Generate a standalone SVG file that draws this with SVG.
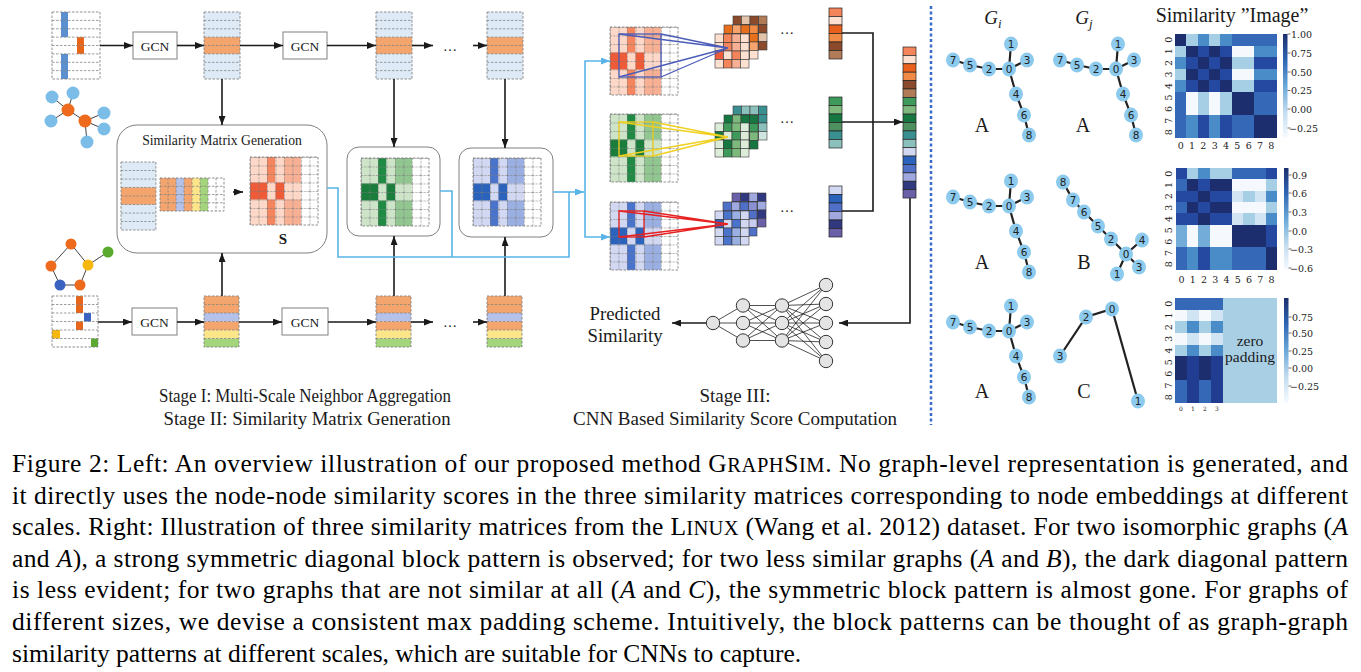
<svg xmlns="http://www.w3.org/2000/svg" width="1361" height="672" viewBox="0 0 1361 672">
<style>
.ln{stroke:#1a1a1a;stroke-width:1.6;fill:none}
.bl{stroke:#58b4e8;stroke-width:1.6;fill:none}
.box{fill:#fff;stroke:#808080;stroke-width:1}
.t{font-family:"Liberation Serif","Times New Roman",serif;fill:#1a1a1a}
.brd{fill:none;stroke:#858585;stroke-width:0.9;stroke-dasharray:2.5,1.5}
.dsh{fill:none;stroke:#858585;stroke-width:0.8;stroke-dasharray:2.5,1.5}
.o .L{fill:#fdd8c8}.o .M{fill:#f8b094}.o .D{fill:#f4855e}.o .X{fill:#ee5b38}
.g .L{fill:#cde4c8}.g .M{fill:#92c690}.g .D{fill:#208a44}.g .X{fill:#1b7d3b}
.b .L{fill:#d2d8f2}.b .M{fill:#9bb0e2}.b .D{fill:#4a74cc}.b .X{fill:#2a62bc}
.W{fill:#fff}
.fm rect{width:8.5px;height:8.5px;stroke:#3a3a3a;stroke-width:0.6}
.vc rect{width:13px;height:8.5px;stroke:#222;stroke-width:0.7}
.cc rect{width:13px;height:8.39px;stroke:#222;stroke-width:0.7}
.nn circle{fill:#e4e4e4;stroke:#333;stroke-width:1}
.nn path{stroke:#222;stroke-width:0.8;fill:none}
.ge{stroke:#222;stroke-width:2.2;fill:none}
.gn{fill:#8ccaee}
.gl{font-family:"DejaVu Sans",sans-serif;font-size:10.5px;fill:#222;text-anchor:middle}
.tk{font-family:"DejaVu Serif",serif;font-size:9.5px;fill:#222}
.cap{font-family:"Liberation Serif","Times New Roman",serif;font-size:25.5px;fill:#000}
.cN{fill:#1c2e6d}.c1{fill:#2549a0}.c2{fill:#3569b8}.c3{fill:#4a8cc8}.c4{fill:#74acd9}.c5{fill:#a6cfe6}.c6{fill:#d0e4f3}.c7{fill:#f5f9fe}.cx{fill:#213d92}.pad{fill:#a9cfe5}
</style>
<defs>
<marker id="ah" markerWidth="9" markerHeight="7" refX="9" refY="3.5" orient="auto" markerUnits="userSpaceOnUse"><path d="M0,0L9,3.5L0,7z" fill="#1a1a1a"/></marker>
<marker id="ahb" markerWidth="9" markerHeight="7" refX="9" refY="3.5" orient="auto" markerUnits="userSpaceOnUse"><path d="M0,0L9,3.5L0,7z" fill="#58b4e8"/></marker>
<pattern id="g85" width="8.5" height="8.5" patternUnits="userSpaceOnUse"><path d="M0,0.3H8.5M0.3,0V8.5" stroke="#7a7a7a" stroke-width="0.7" stroke-dasharray="2,1.2" fill="none"/></pattern>
<linearGradient id="cb" x1="0" y1="0" x2="0" y2="1"><stop offset="0" stop-color="#1c2e6d"/><stop offset="0.25" stop-color="#2f66b4"/><stop offset="0.5" stop-color="#6aa8d8"/><stop offset="0.75" stop-color="#c2dcef"/><stop offset="1" stop-color="#f7fbff"/></linearGradient>
<g id="embT"><rect width="36" height="67" fill="#deebf7"/><rect y="25.1" width="36" height="16.8" fill="#f4a56e"/><path class="dsh" d="M0,8.4H36M0,16.8H36M0,25.1H36M0,33.5H36M0,41.9H36M0,50.3H36M0,58.6H36"/><rect class="brd" width="36" height="67"/></g>
<g id="embB"><rect width="35" height="17" fill="#f4a56e"/><rect y="17" width="35" height="8.5" fill="#b4c2ea"/><rect y="25.5" width="35" height="8.5" fill="#f4a56e"/><rect y="34" width="35" height="8.5" fill="#fde68a"/><rect y="42.5" width="35" height="8.5" fill="#a4d47c"/><path class="dsh" d="M0,8.5H35M0,17H35M0,25.5H35M0,34H35M0,42.5H35"/><rect class="brd" width="35" height="51"/></g>
<g id="gA"><path class="ge" d="M953,60L970,65L989,69L1009,69L1011,44M1009,69L1027,60M1009,69L1016,94L1024,115L1029,135"/>
<ellipse class="gn" cx="953" cy="60" rx="7" ry="7.5"/><ellipse class="gn" cx="970" cy="65" rx="7" ry="7.5"/><ellipse class="gn" cx="989" cy="69" rx="7" ry="7.5"/><ellipse class="gn" cx="1009" cy="69" rx="7" ry="7.5"/><ellipse class="gn" cx="1011" cy="44" rx="7" ry="7.5"/><ellipse class="gn" cx="1027" cy="60" rx="7" ry="7.5"/><ellipse class="gn" cx="1016" cy="94" rx="7" ry="7.5"/><ellipse class="gn" cx="1024" cy="115" rx="7" ry="7.5"/><ellipse class="gn" cx="1029" cy="135" rx="7" ry="7.5"/>
<text class="gl" x="953" y="64">7</text><text class="gl" x="970" y="69">5</text><text class="gl" x="989" y="73">2</text><text class="gl" x="1009" y="73">0</text><text class="gl" x="1011" y="48">1</text><text class="gl" x="1027" y="64">3</text><text class="gl" x="1016" y="98">4</text><text class="gl" x="1024" y="119">6</text><text class="gl" x="1029" y="139">8</text></g>
</defs>
<rect width="1361" height="672" fill="#fff"/>

<!-- Stage I top row -->
<g id="input-top" transform="translate(52,12)"><rect width="48" height="67" fill="#fff"/><rect x="9" width="7" height="25.1" fill="#5b8fd0"/><rect x="9" y="41.9" width="7" height="25.1" fill="#5b8fd0"/><rect x="25" y="25.1" width="7" height="16.8" fill="#e8661c"/><path class="dsh" d="M0,8.4H48M0,16.8H48M0,25.1H48M0,33.5H48M0,41.9H48M0,50.3H48M0,58.6H48"/><rect class="brd" width="48" height="67"/></g>
<g id="graph-top"><path d="M68,110L52,97M68,110L73,93M68,110L51,121M68,110L85,121L104,113M85,121L104,129M85,121L87,142" stroke="#444" stroke-width="1" fill="none"/><circle cx="52" cy="97" r="6.5" fill="#7cbde8"/><circle cx="73" cy="93" r="6.5" fill="#7cbde8"/><circle cx="51" cy="121" r="6.5" fill="#7cbde8"/><circle cx="104" cy="113" r="6.5" fill="#7cbde8"/><circle cx="104" cy="129" r="6.5" fill="#7cbde8"/><circle cx="87" cy="142" r="6.5" fill="#7cbde8"/><circle cx="68" cy="110" r="6.5" fill="#ee6a1c"/><circle cx="85" cy="121" r="6.5" fill="#ee6a1c"/></g>
<g id="gcn-t1"><rect class="box" x="133" y="32" width="44" height="27"/><text class="t" x="155" y="50.5" font-size="13.5" text-anchor="middle">GCN</text></g>
<g id="gcn-t2"><rect class="box" x="283" y="32" width="44" height="27"/><text class="t" x="305" y="50.5" font-size="13.5" text-anchor="middle">GCN</text></g>
<g id="emb-t1"><use href="#embT" x="204" y="12"/></g>
<g id="emb-t2"><use href="#embT" x="376" y="12"/></g>
<g id="emb-t3"><use href="#embT" x="487" y="12"/></g>
<text class="t" x="450" y="51" font-size="14" text-anchor="middle">…</text>

<!-- Stage I bottom row -->
<g id="input-bot" transform="translate(52,296)"><rect width="46" height="51" fill="#fff"/><rect x="24" width="7" height="17" fill="#e8661c"/><rect x="32" y="17" width="7" height="8.5" fill="#3a62c0"/><rect x="24" y="25.5" width="7" height="8.5" fill="#e8661c"/><rect y="34" width="8" height="8.5" fill="#f6b80e"/><rect x="39" y="42.5" width="7" height="8.5" fill="#5aaa30"/><path class="dsh" d="M0,8.5H46M0,17H46M0,25.5H46M0,34H46M0,42.5H46"/><rect class="brd" width="46" height="51"/></g>
<g id="graph-bot"><path d="M71,244L51,266L60,285L80,285L88,265L71,244M88,265L108,252" stroke="#444" stroke-width="1" fill="none"/><circle cx="71" cy="244" r="5.5" fill="#ee6a1c"/><circle cx="51" cy="266" r="5.5" fill="#ee6a1c"/><circle cx="88" cy="265" r="5.5" fill="#f6b80e"/><circle cx="108" cy="252" r="5.5" fill="#5aaa30"/><circle cx="60" cy="285" r="5.5" fill="#3a62c0"/><circle cx="80" cy="285" r="5.5" fill="#ee6a1c"/></g>
<g id="gcn-b1"><rect class="box" x="132" y="308" width="45" height="27"/><text class="t" x="154.5" y="326.5" font-size="13.5" text-anchor="middle">GCN</text></g>
<g id="gcn-b2"><rect class="box" x="282" y="308" width="46" height="27"/><text class="t" x="305" y="326.5" font-size="13.5" text-anchor="middle">GCN</text></g>
<g id="emb-b1"><use href="#embB" x="204" y="296"/></g>
<g id="emb-b2"><use href="#embB" x="376" y="296"/></g>
<g id="emb-b3"><use href="#embB" x="487" y="296"/></g>
<text class="t" x="450" y="327" font-size="14" text-anchor="middle">…</text>

<!-- Stage II -->
<g id="simgen">
<rect class="box" x="117" y="125" width="210" height="128" rx="20"/>
<text class="t" x="222" y="145" font-size="13.7" text-anchor="middle">Similarity Matrix Generation</text>
<use href="#embT" transform="translate(121,162) scale(0.97,1.015)"/>
<g transform="translate(160,178)"><rect width="16" height="33" fill="#f4a56e"/><rect x="16" width="8" height="33" fill="#b4c2ea"/><rect x="24" width="8" height="33" fill="#f4a56e"/><rect x="32" width="8" height="33" fill="#fde68a"/><rect x="40" width="8" height="33" fill="#a4d47c"/><rect x="48" width="16" height="33" fill="#fff"/><path class="dsh" d="M0,8.25H64M0,16.5H64M0,24.75H64M8,0V33M16,0V33M24,0V33M32,0V33M40,0V33M48,0V33M56,0V33"/><rect class="brd" width="64" height="33"/></g>
<path class="ln" d="M233,192H243" marker-end="url(#ah)"/>
<g class="o" transform="translate(250,157)"><rect class="L" width="17" height="68"/><rect class="D" x="17" width="8.5" height="68"/><rect class="L" x="25.5" width="8.5" height="68"/><rect class="M" x="34" width="17" height="68"/><rect class="W" x="51" width="17" height="68"/><rect class="X" y="25.5" width="17" height="17"/><rect class="L" x="17" y="25.5" width="8.5" height="17"/><rect class="X" x="25.5" y="25.5" width="8.5" height="17"/><rect class="L" x="34" y="25.5" width="17" height="17"/><rect fill="url(#g85)" width="68" height="68"/><rect class="brd" width="68" height="68"/></g>
<text class="t" x="283" y="244" font-size="15" font-weight="bold" text-anchor="middle">S</text>
</g>
<g id="simG"><rect class="box" x="347" y="147" width="93" height="89" rx="12"/>
<g class="g" transform="translate(361,158)"><rect class="L" width="17" height="68"/><rect class="D" x="17" width="8.5" height="68"/><rect class="L" x="25.5" width="8.5" height="68"/><rect class="M" x="34" width="17" height="68"/><rect class="W" x="51" width="17" height="68"/><rect class="X" y="25.5" width="17" height="17"/><rect class="L" x="17" y="25.5" width="8.5" height="17"/><rect class="X" x="25.5" y="25.5" width="8.5" height="17"/><rect class="L" x="34" y="25.5" width="17" height="17"/><rect fill="url(#g85)" width="68" height="68"/><rect class="brd" width="68" height="68"/></g></g>
<g id="simB"><rect class="box" x="459" y="148" width="94" height="89" rx="12"/>
<g class="b" transform="translate(473,158)"><rect class="L" width="17" height="68"/><rect class="D" x="17" width="8.5" height="68"/><rect class="L" x="25.5" width="8.5" height="68"/><rect class="M" x="34" width="17" height="68"/><rect class="W" x="51" width="17" height="68"/><rect class="X" y="25.5" width="17" height="17"/><rect class="L" x="17" y="25.5" width="8.5" height="17"/><rect class="X" x="25.5" y="25.5" width="8.5" height="17"/><rect class="L" x="34" y="25.5" width="17" height="17"/><rect fill="url(#g85)" width="68" height="68"/><rect class="brd" width="68" height="68"/></g></g>

<!-- Stage III -->
<g id="cnn-in">
<g class="o" transform="translate(610,27)"><rect class="L" width="17" height="68"/><rect class="D" x="17" width="8.5" height="68"/><rect class="L" x="25.5" width="8.5" height="68"/><rect class="M" x="34" width="17" height="68"/><rect class="W" x="51" width="17" height="68"/><rect class="X" y="25.5" width="17" height="17"/><rect class="L" x="17" y="25.5" width="8.5" height="17"/><rect class="X" x="25.5" y="25.5" width="8.5" height="17"/><rect class="L" x="34" y="25.5" width="17" height="17"/><rect fill="url(#g85)" width="68" height="68"/><rect class="brd" width="68" height="68"/></g>
<g class="g" transform="translate(610,114)"><rect class="L" width="17" height="68"/><rect class="D" x="17" width="8.5" height="68"/><rect class="L" x="25.5" width="8.5" height="68"/><rect class="M" x="34" width="17" height="68"/><rect class="W" x="51" width="17" height="68"/><rect class="X" y="25.5" width="17" height="17"/><rect class="L" x="17" y="25.5" width="8.5" height="17"/><rect class="X" x="25.5" y="25.5" width="8.5" height="17"/><rect class="L" x="34" y="25.5" width="17" height="17"/><rect fill="url(#g85)" width="68" height="68"/><rect class="brd" width="68" height="68"/></g>
<g class="b" transform="translate(610,202)"><rect class="L" width="17" height="68"/><rect class="D" x="17" width="8.5" height="68"/><rect class="L" x="25.5" width="8.5" height="68"/><rect class="M" x="34" width="17" height="68"/><rect class="W" x="51" width="17" height="68"/><rect class="X" y="25.5" width="17" height="17"/><rect class="L" x="17" y="25.5" width="8.5" height="17"/><rect class="X" x="25.5" y="25.5" width="8.5" height="17"/><rect class="L" x="34" y="25.5" width="17" height="17"/><rect fill="url(#g85)" width="68" height="68"/><rect class="brd" width="68" height="68"/></g>
</g>
<g id="fmO" class="fm">
<g transform="translate(733,16)"><rect x="0" y="0" fill="#8b4a2b"/><rect x="8.5" y="0" fill="#e3c3aa"/><rect x="17" y="0" fill="#8b4a2b"/><rect x="25.5" y="0" fill="#b27b57"/><rect x="0" y="8.5" fill="#b27b57"/><rect x="8.5" y="8.5" fill="#8b4a2b"/><rect x="17" y="8.5" fill="#e3c3aa"/><rect x="25.5" y="8.5" fill="#8b4a2b"/><rect x="0" y="17" fill="#8b4a2b"/><rect x="8.5" y="17" fill="#b27b57"/><rect x="17" y="17" fill="#8b4a2b"/><rect x="25.5" y="17" fill="#e3c3aa"/><rect x="0" y="25.5" fill="#e3c3aa"/><rect x="8.5" y="25.5" fill="#8b4a2b"/><rect x="17" y="25.5" fill="#b27b57"/><rect x="25.5" y="25.5" fill="#8b4a2b"/></g>
<g transform="translate(724,25)"><rect x="0" y="0" fill="#e8701c"/><rect x="8.5" y="0" fill="#f5a46e"/><rect x="17" y="0" fill="#e8701c"/><rect x="25.5" y="0" fill="#f08a45"/><rect x="0" y="8.5" fill="#f08a45"/><rect x="8.5" y="8.5" fill="#e8701c"/><rect x="17" y="8.5" fill="#f5a46e"/><rect x="25.5" y="8.5" fill="#e8701c"/><rect x="0" y="17" fill="#f5a46e"/><rect x="8.5" y="17" fill="#f08a45"/><rect x="17" y="17" fill="#e8701c"/><rect x="25.5" y="17" fill="#f5a46e"/><rect x="0" y="25.5" fill="#e8701c"/><rect x="8.5" y="25.5" fill="#f5a46e"/><rect x="17" y="25.5" fill="#f08a45"/><rect x="25.5" y="25.5" fill="#fde0d0"/></g>
<g transform="translate(715,34)"><rect x="0" y="0" fill="#fde0d0"/><rect x="8.5" y="0" fill="#f4845a"/><rect x="17" y="0" fill="#f8b094"/><rect x="25.5" y="0" fill="#fde0d0"/><rect x="0" y="8.5" fill="#fde0d0"/><rect x="8.5" y="8.5" fill="#f4845a"/><rect x="17" y="8.5" fill="#f8b094"/><rect x="25.5" y="8.5" fill="#fde0d0"/><rect x="0" y="17" fill="#ee5b38"/><rect x="8.5" y="17" fill="#fde0d0"/><rect x="17" y="17" fill="#f4845a"/><rect x="25.5" y="17" fill="#fde0d0"/><rect x="0" y="25.5" fill="#fde0d0"/><rect x="8.5" y="25.5" fill="#f4845a"/><rect x="17" y="25.5" fill="#f8b094"/><rect x="25.5" y="25.5" fill="#fde0d0"/></g>
</g>
<g id="fmG" class="fm">
<g transform="translate(733,106)"><rect x="0" y="0" fill="#3a9090"/><rect x="8.5" y="0" fill="#8cc0bc"/><rect x="17" y="0" fill="#8cc0bc"/><rect x="25.5" y="0" fill="#3a9090"/><rect x="0" y="8.5" fill="#8cc0bc"/><rect x="8.5" y="8.5" fill="#3a9090"/><rect x="17" y="8.5" fill="#d0e4e0"/><rect x="25.5" y="8.5" fill="#3a9090"/><rect x="0" y="17" fill="#3a9090"/><rect x="8.5" y="17" fill="#8cc0bc"/><rect x="17" y="17" fill="#3a9090"/><rect x="25.5" y="17" fill="#8cc0bc"/><rect x="0" y="25.5" fill="#8cc0bc"/><rect x="8.5" y="25.5" fill="#3a9090"/><rect x="17" y="25.5" fill="#8cc0bc"/><rect x="25.5" y="25.5" fill="#d0e4e0"/></g>
<g transform="translate(724,115)"><rect x="0" y="0" fill="#167840"/><rect x="8.5" y="0" fill="#7db87c"/><rect x="17" y="0" fill="#167840"/><rect x="25.5" y="0" fill="#167840"/><rect x="0" y="8.5" fill="#3d9a5a"/><rect x="8.5" y="8.5" fill="#167840"/><rect x="17" y="8.5" fill="#7db87c"/><rect x="25.5" y="8.5" fill="#3d9a5a"/><rect x="0" y="17" fill="#7db87c"/><rect x="8.5" y="17" fill="#3d9a5a"/><rect x="17" y="17" fill="#167840"/><rect x="25.5" y="17" fill="#7db87c"/><rect x="0" y="25.5" fill="#167840"/><rect x="8.5" y="25.5" fill="#7db87c"/><rect x="17" y="25.5" fill="#3d9a5a"/><rect x="25.5" y="25.5" fill="#167840"/></g>
<g transform="translate(715,123)"><rect x="0" y="0" fill="#dcecd8"/><rect x="8.5" y="0" fill="#3d9a5a"/><rect x="17" y="0" fill="#7db87c"/><rect x="25.5" y="0" fill="#dcecd8"/><rect x="0" y="8.5" fill="#167840"/><rect x="8.5" y="8.5" fill="#dcecd8"/><rect x="17" y="8.5" fill="#3d9a5a"/><rect x="25.5" y="8.5" fill="#dcecd8"/><rect x="0" y="17" fill="#dcecd8"/><rect x="8.5" y="17" fill="#167840"/><rect x="17" y="17" fill="#7db87c"/><rect x="25.5" y="17" fill="#dcecd8"/><rect x="0" y="25.5" fill="#dcecd8"/><rect x="8.5" y="25.5" fill="#3d9a5a"/><rect x="17" y="25.5" fill="#7db87c"/><rect x="25.5" y="25.5" fill="#dcecd8"/></g>
</g>
<g id="fmB" class="fm">
<g transform="translate(732,193)"><rect x="0" y="0" fill="#6a60a8"/><rect x="8.5" y="0" fill="#303880"/><rect x="17" y="0" fill="#a0a8e0"/><rect x="25.5" y="0" fill="#303880"/><rect x="0" y="8.5" fill="#303880"/><rect x="8.5" y="8.5" fill="#6a60a8"/><rect x="17" y="8.5" fill="#303880"/><rect x="25.5" y="8.5" fill="#a0a8e0"/><rect x="0" y="17" fill="#a0a8e0"/><rect x="8.5" y="17" fill="#303880"/><rect x="17" y="17" fill="#6a60a8"/><rect x="25.5" y="17" fill="#303880"/><rect x="0" y="25.5" fill="#303880"/><rect x="8.5" y="25.5" fill="#a0a8e0"/><rect x="17" y="25.5" fill="#303880"/><rect x="25.5" y="25.5" fill="#6a60a8"/></g>
<g transform="translate(723,202)"><rect x="0" y="0" fill="#5070c8"/><rect x="8.5" y="0" fill="#a0a8e0"/><rect x="17" y="0" fill="#5070c8"/><rect x="25.5" y="0" fill="#8a90d0"/><rect x="0" y="8.5" fill="#8a90d0"/><rect x="8.5" y="8.5" fill="#5070c8"/><rect x="17" y="8.5" fill="#a0a8e0"/><rect x="25.5" y="8.5" fill="#5070c8"/><rect x="0" y="17" fill="#5070c8"/><rect x="8.5" y="17" fill="#8a90d0"/><rect x="17" y="17" fill="#5070c8"/><rect x="25.5" y="17" fill="#c8ccee"/><rect x="0" y="25.5" fill="#a0a8e0"/><rect x="8.5" y="25.5" fill="#5070c8"/><rect x="17" y="25.5" fill="#8a90d0"/><rect x="25.5" y="25.5" fill="#5070c8"/></g>
<g transform="translate(715,211)"><rect x="0" y="0" fill="#d2d8f2"/><rect x="8.5" y="0" fill="#4a74cc"/><rect x="17" y="0" fill="#9bb0e2"/><rect x="25.5" y="0" fill="#d2d8f2"/><rect x="0" y="8.5" fill="#2a62bc"/><rect x="8.5" y="8.5" fill="#d2d8f2"/><rect x="17" y="8.5" fill="#4a74cc"/><rect x="25.5" y="8.5" fill="#d2d8f2"/><rect x="0" y="17" fill="#d2d8f2"/><rect x="8.5" y="17" fill="#4a74cc"/><rect x="17" y="17" fill="#9bb0e2"/><rect x="25.5" y="17" fill="#d2d8f2"/><rect x="0" y="25.5" fill="#d2d8f2"/><rect x="8.5" y="25.5" fill="#4a74cc"/><rect x="17" y="25.5" fill="#9bb0e2"/><rect x="25.5" y="25.5" fill="#d2d8f2"/></g>
</g>
<g id="filters" fill="none" stroke-width="1.3">
<rect x="619" y="34" width="42" height="43" stroke="#4a5cb8"/><path d="M619,34L728,48M661,34L728,48M619,77L728,48M661,77L728,48" stroke="#4a5cb8"/>
<rect x="619" y="122" width="34" height="34" stroke="#f0d020"/><path d="M619,122L728,137M653,122L728,137M619,156L728,137M653,156L728,137" stroke="#f0d020"/>
<rect x="619" y="211" width="25" height="26" stroke="#e82020"/><path d="M619,211L728,224M644,211L728,224M619,237L728,224M644,237L728,224" stroke="#e82020"/>
</g>
<text class="t" x="787" y="34" font-size="14" text-anchor="middle">…</text>
<text class="t" x="787" y="123" font-size="14" text-anchor="middle">…</text>
<text class="t" x="787" y="212" font-size="14" text-anchor="middle">…</text>
<g id="vecO" class="vc" transform="translate(829,8)"><rect y="0" fill="#f4845a"/><rect y="8.5" fill="#fde0d0"/><rect y="17" fill="#e8601c"/><rect y="25.5" fill="#f08a45"/><rect y="34" fill="#8b4a2b"/><rect y="42.5" fill="#b27b57"/></g>
<g id="vecG" class="vc" transform="translate(829,97)"><rect y="0" fill="#3d9a5a"/><rect y="8.5" fill="#7db87c"/><rect y="17" fill="#167840"/><rect y="25.5" fill="#4e9060"/><rect y="34" fill="#3a9090"/><rect y="42.5" fill="#8cc0bc"/></g>
<g id="vecB" class="vc" transform="translate(829,186)"><rect y="0" fill="#d2d8f2"/><rect y="8.5" fill="#2a62bc"/><rect y="17" fill="#5070c8"/><rect y="25.5" fill="#a0a8e0"/><rect y="34" fill="#303880"/><rect y="42.5" fill="#6a60a8"/></g>
<g id="concat" class="cc" transform="translate(903,47)"><rect y="0" fill="#f4845a"/><rect y="8.39" fill="#fde0d0"/><rect y="16.78" fill="#e8601c"/><rect y="25.17" fill="#f08a45"/><rect y="33.56" fill="#8b4a2b"/><rect y="41.95" fill="#b27b57"/><rect y="50.34" fill="#3d9a5a"/><rect y="58.73" fill="#7db87c"/><rect y="67.12" fill="#167840"/><rect y="75.51" fill="#4e9060"/><rect y="83.9" fill="#3a9090"/><rect y="92.29" fill="#8cc0bc"/><rect y="100.68" fill="#d2d8f2"/><rect y="109.07" fill="#2a62bc"/><rect y="117.46" fill="#5070c8"/><rect y="125.85" fill="#a0a8e0"/><rect y="134.24" fill="#303880"/><rect y="142.63" fill="#6a60a8"/></g>
<g id="nn" class="nn">
<path d="M713,323L743,305.5M713,323L743,323M713,323L743,340.5M743,305.5L782,305.5M743,305.5L782,323M743,305.5L782,340.5M743,323L782,305.5M743,323L782,323M743,323L782,340.5M743,340.5L782,305.5M743,340.5L782,323M743,340.5L782,340.5M782,305.5L826,285M782,305.5L826,304M782,305.5L826,323M782,305.5L826,342M782,305.5L826,361M782,323L826,285M782,323L826,304M782,323L826,323M782,323L826,342M782,323L826,361M782,340.5L826,285M782,340.5L826,304M782,340.5L826,323M782,340.5L826,342M782,340.5L826,361"/>
<circle cx="713" cy="323" r="6.7"/><circle cx="743" cy="305.5" r="6.7"/><circle cx="743" cy="323" r="6.7"/><circle cx="743" cy="340.5" r="6.7"/><circle cx="782" cy="305.5" r="6.7"/><circle cx="782" cy="323" r="6.7"/><circle cx="782" cy="340.5" r="6.7"/><circle cx="826" cy="285" r="6.7"/><circle cx="826" cy="304" r="6.7"/><circle cx="826" cy="323" r="6.7"/><circle cx="826" cy="342" r="6.7"/><circle cx="826" cy="361" r="6.7"/>
</g>
<text class="t" x="625" y="320" font-size="18.8" text-anchor="middle">Predicted</text>
<text class="t" x="625" y="342" font-size="18.8" text-anchor="middle">Similarity</text>

<!-- connectors -->
<g id="connectors">
<path class="ln" d="M100,45.5H133" marker-end="url(#ah)"/>
<path class="ln" d="M177,45.5H204" marker-end="url(#ah)"/>
<path class="ln" d="M240,45.5H283" marker-end="url(#ah)"/>
<path class="ln" d="M327,45.5H376" marker-end="url(#ah)"/>
<path class="ln" d="M412,45.5H433" marker-end="url(#ah)"/>
<path class="ln" d="M473,45.5H487" marker-end="url(#ah)"/>
<path class="ln" d="M98,322H132" marker-end="url(#ah)"/>
<path class="ln" d="M177,322H204" marker-end="url(#ah)"/>
<path class="ln" d="M239,322H282" marker-end="url(#ah)"/>
<path class="ln" d="M328,322H376" marker-end="url(#ah)"/>
<path class="ln" d="M411,322H433" marker-end="url(#ah)"/>
<path class="ln" d="M473,322H487" marker-end="url(#ah)"/>
<path class="ln" d="M222,79V125" marker-end="url(#ah)"/>
<path class="ln" d="M394,79V147" marker-end="url(#ah)"/>
<path class="ln" d="M505,79V148" marker-end="url(#ah)"/>
<path class="ln" d="M222,296V253" marker-end="url(#ah)"/>
<path class="ln" d="M394,296V236" marker-end="url(#ah)"/>
<path class="ln" d="M505,296V237" marker-end="url(#ah)"/>
<path class="bl" d="M327,188H338V257H569V192"/>
<path class="bl" d="M440,191H452V257"/>
<path class="bl" d="M553,192H584" marker-end="url(#ahb)"/>
<path class="bl" d="M585,150V61H610" marker-end="url(#ahb)"/>
<path class="bl" d="M585,150V237H610" marker-end="url(#ahb)"/>
<path class="ln" d="M842,33H873V211H842"/>
<path class="ln" d="M842,122H903" marker-end="url(#ah)"/>
<path class="ln" d="M910,198V323H839" marker-end="url(#ah)"/>
<path class="ln" d="M706,323H672" marker-end="url(#ah)"/>
</g>

<!-- stage labels -->
<text class="t" x="305" y="402" font-size="19" text-anchor="middle" textLength="292" lengthAdjust="spacingAndGlyphs">Stage I: Multi-Scale Neighbor Aggregation</text>
<text class="t" x="307" y="425" font-size="19" text-anchor="middle" textLength="287" lengthAdjust="spacingAndGlyphs">Stage II: Similarity Matrix Generation</text>
<text class="t" x="735" y="402" font-size="19" text-anchor="middle">Stage III:</text>
<text class="t" x="735" y="425" font-size="19" text-anchor="middle" textLength="324" lengthAdjust="spacingAndGlyphs">CNN Based Similarity Score Computation</text>

<path d="M931,6V425" stroke="#3a6bc8" stroke-width="2.5" stroke-dasharray="3,2.5"/>

<!-- right panel -->
<text class="t" x="993" y="24" font-size="19" font-style="italic" text-anchor="middle">G<tspan font-size="13" dy="4">i</tspan></text>
<text class="t" x="1084" y="24" font-size="19" font-style="italic" text-anchor="middle">G<tspan font-size="13" dy="4">j</tspan></text>
<text class="t" x="1232" y="22" font-size="20" text-anchor="middle">Similarity ”Image”</text>
<g id="g1a"><use href="#gA"/></g>
<g id="g1b"><use href="#gA" x="107"/></g>
<g id="g2a"><use href="#gA" y="137"/></g>
<g id="g3a"><use href="#gA" y="262"/></g>
<g id="g2b"><path class="ge" d="M1063,182L1073,200L1084,212L1098,226L1111,239L1126,254L1142,240M1126,254L1139,267M1126,254L1117,274"/>
<ellipse class="gn" cx="1063" cy="182" rx="7" ry="7.5"/><ellipse class="gn" cx="1073" cy="200" rx="7" ry="7.5"/><ellipse class="gn" cx="1084" cy="212" rx="7" ry="7.5"/><ellipse class="gn" cx="1098" cy="226" rx="7" ry="7.5"/><ellipse class="gn" cx="1111" cy="239" rx="7" ry="7.5"/><ellipse class="gn" cx="1126" cy="254" rx="7" ry="7.5"/><ellipse class="gn" cx="1142" cy="240" rx="7" ry="7.5"/><ellipse class="gn" cx="1139" cy="267" rx="7" ry="7.5"/><ellipse class="gn" cx="1117" cy="274" rx="7" ry="7.5"/>
<text class="gl" x="1063" y="186">8</text><text class="gl" x="1073" y="204">7</text><text class="gl" x="1084" y="216">6</text><text class="gl" x="1098" y="230">5</text><text class="gl" x="1111" y="243">2</text><text class="gl" x="1126" y="258">0</text><text class="gl" x="1142" y="244">4</text><text class="gl" x="1139" y="271">3</text><text class="gl" x="1117" y="278">1</text></g>
<g id="g3c"><path class="ge" d="M1060,356L1086,317L1112,309L1138,401"/>
<ellipse class="gn" cx="1086" cy="317" rx="7" ry="7.5"/><ellipse class="gn" cx="1112" cy="309" rx="7" ry="7.5"/><ellipse class="gn" cx="1060" cy="356" rx="7" ry="7.5"/><ellipse class="gn" cx="1138" cy="401" rx="7" ry="7.5"/>
<text class="gl" x="1086" y="321">2</text><text class="gl" x="1112" y="313">0</text><text class="gl" x="1060" y="360">3</text><text class="gl" x="1138" y="405">1</text></g>
<text class="t" x="982" y="132" font-size="20" text-anchor="middle">A</text>
<text class="t" x="1083" y="132" font-size="20" text-anchor="middle">A</text>
<text class="t" x="982" y="269" font-size="20" text-anchor="middle">A</text>
<text class="t" x="1084" y="269" font-size="20" text-anchor="middle">B</text>
<text class="t" x="982" y="398" font-size="20" text-anchor="middle">A</text>
<text class="t" x="1084" y="398" font-size="20" text-anchor="middle">C</text>

<g id="hm1">
<g transform="translate(1175,34) scale(11.333,11.556)" shape-rendering="crispEdges">
<rect class="cN" x="0" y="0" width="1" height="1"/><rect class="c5" x="1" y="0" width="1" height="1"/><rect class="c3" x="2" y="0" width="1" height="1"/><rect class="c5" x="3" y="0" width="1" height="1"/><rect class="c3" x="4" y="0" width="1" height="1"/><rect class="c2" x="5" y="0" width="4" height="1"/>
<rect class="c5" x="0" y="1" width="1" height="1"/><rect class="cN" x="1" y="1" width="1" height="1"/><rect class="c1" x="2" y="1" width="1" height="1"/><rect class="cN" x="3" y="1" width="1" height="1"/><rect class="c1" x="4" y="1" width="1" height="1"/><rect class="c7" x="5" y="1" width="2" height="1"/><rect class="c3" x="7" y="1" width="2" height="1"/>
<rect class="c3" x="0" y="2" width="1" height="1"/><rect class="c1" x="1" y="2" width="1" height="1"/><rect class="cN" x="2" y="2" width="1" height="1"/><rect class="c1" x="3" y="2" width="1" height="1"/><rect class="cN" x="4" y="2" width="1" height="1"/><rect class="c5" x="5" y="2" width="2" height="1"/><rect class="c1" x="7" y="2" width="2" height="1"/>
<rect class="c5" x="0" y="3" width="1" height="1"/><rect class="cN" x="1" y="3" width="1" height="1"/><rect class="c1" x="2" y="3" width="1" height="1"/><rect class="cN" x="3" y="3" width="1" height="1"/><rect class="c1" x="4" y="3" width="1" height="1"/><rect class="c7" x="5" y="3" width="2" height="1"/><rect class="c3" x="7" y="3" width="2" height="1"/>
<rect class="c3" x="0" y="4" width="1" height="1"/><rect class="c1" x="1" y="4" width="1" height="1"/><rect class="cN" x="2" y="4" width="1" height="1"/><rect class="c1" x="3" y="4" width="1" height="1"/><rect class="cN" x="4" y="4" width="1" height="1"/><rect class="c5" x="5" y="4" width="2" height="1"/><rect class="c1" x="7" y="4" width="2" height="1"/>
<rect class="c2" x="0" y="5" width="1" height="2"/><rect class="c7" x="1" y="5" width="1" height="2"/><rect class="c5" x="2" y="5" width="1" height="2"/><rect class="c7" x="3" y="5" width="1" height="2"/><rect class="c5" x="4" y="5" width="1" height="2"/><rect class="cN" x="5" y="5" width="2" height="2"/><rect class="c2" x="7" y="5" width="2" height="2"/>
<rect class="c2" x="0" y="7" width="1" height="2"/><rect class="c3" x="1" y="7" width="1" height="2"/><rect class="c1" x="2" y="7" width="1" height="2"/><rect class="c3" x="3" y="7" width="1" height="2"/><rect class="c1" x="4" y="7" width="1" height="2"/><rect class="c2" x="5" y="7" width="2" height="2"/><rect class="cN" x="7" y="7" width="2" height="2"/>
</g>
<rect x="1283" y="34" width="4.5" height="104" fill="url(#cb)"/>
<path d="M1287.5,34h3M1287.5,53h3M1287.5,72h3M1287.5,90.5h3M1287.5,109h3M1287.5,128h3" stroke="#333" stroke-width="0.7"/>
<text class="tk" x="1291" y="37.5">1.00</text><text class="tk" x="1291" y="56.5">0.75</text><text class="tk" x="1291" y="75.5">0.50</text><text class="tk" x="1291" y="94">0.25</text><text class="tk" x="1291" y="112.5">0.00</text><text class="tk" x="1289" y="131.5">−0.25</text>
<g class="tk" text-anchor="middle"><text transform="translate(1172,39.8) rotate(-90)">0</text><text transform="translate(1172,51.3) rotate(-90)">1</text><text transform="translate(1172,62.9) rotate(-90)">2</text><text transform="translate(1172,74.4) rotate(-90)">3</text><text transform="translate(1172,86) rotate(-90)">4</text><text transform="translate(1172,97.6) rotate(-90)">5</text><text transform="translate(1172,109.1) rotate(-90)">6</text><text transform="translate(1172,120.7) rotate(-90)">7</text><text transform="translate(1172,132.2) rotate(-90)">8</text>
<text x="1180.7" y="149">0</text><text x="1192" y="149">1</text><text x="1203.3" y="149">2</text><text x="1214.7" y="149">3</text><text x="1226" y="149">4</text><text x="1237.3" y="149">5</text><text x="1248.7" y="149">6</text><text x="1260" y="149">7</text><text x="1271.3" y="149">8</text></g>
</g>

<g id="hm2">
<g transform="translate(1176,168) scale(11.222,11.333)" shape-rendering="crispEdges">
<rect class="c1" x="0" y="0" width="1" height="1"/><rect class="c5" x="1" y="0" width="1" height="1"/><rect class="c3" x="2" y="0" width="1" height="1"/><rect class="c5" x="3" y="0" width="2" height="1"/><rect class="c2" x="5" y="0" width="3" height="1"/><rect class="c1" x="8" y="0" width="1" height="1"/>
<rect class="c2" x="0" y="1" width="1" height="1"/><rect class="cN" x="1" y="1" width="1" height="1"/><rect class="c1" x="2" y="1" width="1" height="1"/><rect class="cN" x="3" y="1" width="2" height="1"/><rect class="c7" x="5" y="1" width="3" height="1"/><rect class="c5" x="8" y="1" width="1" height="1"/>
<rect class="c1" x="0" y="2" width="2" height="1"/><rect class="cN" x="2" y="2" width="1" height="1"/><rect class="c1" x="3" y="2" width="2" height="1"/><rect class="c6" x="5" y="2" width="1" height="1"/><rect class="c5" x="6" y="2" width="1" height="1"/><rect class="c6" x="7" y="2" width="1" height="1"/><rect class="c3" x="8" y="2" width="1" height="1"/>
<rect class="c2" x="0" y="3" width="1" height="1"/><rect class="cN" x="1" y="3" width="1" height="1"/><rect class="c1" x="2" y="3" width="1" height="1"/><rect class="cN" x="3" y="3" width="2" height="1"/><rect class="c7" x="5" y="3" width="3" height="1"/><rect class="c5" x="8" y="3" width="1" height="1"/>
<rect class="c1" x="0" y="4" width="2" height="1"/><rect class="cN" x="2" y="4" width="1" height="1"/><rect class="c1" x="3" y="4" width="2" height="1"/><rect class="c6" x="5" y="4" width="1" height="1"/><rect class="c5" x="6" y="4" width="1" height="1"/><rect class="c6" x="7" y="4" width="1" height="1"/><rect class="c3" x="8" y="4" width="1" height="1"/>
<rect class="c4" x="0" y="5" width="1" height="2"/><rect class="c7" x="1" y="5" width="1" height="2"/><rect class="c4" x="2" y="5" width="1" height="2"/><rect class="c7" x="3" y="5" width="2" height="2"/><rect class="cN" x="5" y="5" width="3" height="2"/><rect class="c1" x="8" y="5" width="1" height="2"/>
<rect class="c2" x="0" y="7" width="1" height="2"/><rect class="c3" x="1" y="7" width="1" height="2"/><rect class="c1" x="2" y="7" width="1" height="2"/><rect class="c3" x="3" y="7" width="2" height="2"/><rect class="c2" x="5" y="7" width="3" height="2"/><rect class="cN" x="8" y="7" width="1" height="2"/>
</g>
<rect x="1284" y="168" width="4.5" height="102" fill="url(#cb)"/>
<path d="M1288.5,175h3M1288.5,193h3M1288.5,212h3M1288.5,231h3M1288.5,249h3M1288.5,268h3" stroke="#333" stroke-width="0.7"/>
<text class="tk" x="1292" y="178.5">0.9</text><text class="tk" x="1292" y="196.5">0.6</text><text class="tk" x="1292" y="215.5">0.3</text><text class="tk" x="1292" y="234.5">0.0</text><text class="tk" x="1290" y="252.5">−0.3</text><text class="tk" x="1290" y="271.5">−0.6</text>
<g class="tk" text-anchor="middle"><text transform="translate(1172,173.7) rotate(-90)">0</text><text transform="translate(1172,185) rotate(-90)">1</text><text transform="translate(1172,196.3) rotate(-90)">2</text><text transform="translate(1172,207.7) rotate(-90)">3</text><text transform="translate(1172,219) rotate(-90)">4</text><text transform="translate(1172,230.3) rotate(-90)">5</text><text transform="translate(1172,241.7) rotate(-90)">6</text><text transform="translate(1172,253) rotate(-90)">7</text><text transform="translate(1172,264.3) rotate(-90)">8</text>
<text x="1181.6" y="283">0</text><text x="1192.8" y="283">1</text><text x="1204" y="283">2</text><text x="1215.3" y="283">3</text><text x="1226.5" y="283">4</text><text x="1237.7" y="283">5</text><text x="1248.9" y="283">6</text><text x="1260.2" y="283">7</text><text x="1271.4" y="283">8</text></g>
</g>

<g id="hm3">
<g transform="translate(1175,298) scale(12,11.667)" shape-rendering="crispEdges">
<rect class="c2" x="0" y="0" width="4" height="1"/>
<rect class="c7" x="0" y="1" width="1" height="1"/><rect class="c6" x="1" y="1" width="1" height="1"/><rect class="c7" x="2" y="1" width="1" height="1"/><rect class="c6" x="3" y="1" width="1" height="1"/>
<rect class="c5" x="0" y="2" width="1" height="1"/><rect class="c3" x="1" y="2" width="1" height="1"/><rect class="c5" x="2" y="2" width="1" height="1"/><rect class="c3" x="3" y="2" width="1" height="1"/>
<rect class="c7" x="0" y="3" width="1" height="1"/><rect class="c6" x="1" y="3" width="1" height="1"/><rect class="c7" x="2" y="3" width="1" height="1"/><rect class="c6" x="3" y="3" width="1" height="1"/>
<rect class="c5" x="0" y="4" width="1" height="1"/><rect class="c3" x="1" y="4" width="1" height="1"/><rect class="c5" x="2" y="4" width="1" height="1"/><rect class="c3" x="3" y="4" width="1" height="1"/>
<rect class="cN" x="0" y="5" width="1" height="2"/><rect class="cx" x="1" y="5" width="1" height="2"/><rect class="cN" x="2" y="5" width="1" height="2"/><rect class="cx" x="3" y="5" width="1" height="2"/>
<rect class="c2" x="0" y="7" width="1" height="2"/><rect class="cx" x="1" y="7" width="1" height="2"/><rect class="c2" x="2" y="7" width="1" height="2"/><rect class="cx" x="3" y="7" width="1" height="2"/>
<rect class="pad" x="4" y="0" width="4.5" height="9"/>
</g>
<text class="t" x="1250" y="346" font-size="15.5" text-anchor="middle">zero</text>
<text class="t" x="1250" y="362" font-size="15.5" text-anchor="middle">padding</text>
<rect x="1284" y="298" width="4.5" height="105" fill="url(#cb)"/>
<path d="M1288.5,317h3M1288.5,333h3M1288.5,351h3M1288.5,368h3M1288.5,386h3" stroke="#333" stroke-width="0.7"/>
<text class="tk" x="1292" y="320.5">0.75</text><text class="tk" x="1292" y="336.5">0.50</text><text class="tk" x="1292" y="354.5">0.25</text><text class="tk" x="1292" y="371.5">0.00</text><text class="tk" x="1290" y="389.5">−0.25</text>
<g class="tk" text-anchor="middle"><text transform="translate(1172,303.8) rotate(-90)">0</text><text transform="translate(1172,315.5) rotate(-90)">1</text><text transform="translate(1172,327.2) rotate(-90)">2</text><text transform="translate(1172,338.8) rotate(-90)">3</text><text transform="translate(1172,350.5) rotate(-90)">4</text><text transform="translate(1172,362.2) rotate(-90)">5</text><text transform="translate(1172,373.8) rotate(-90)">6</text><text transform="translate(1172,385.5) rotate(-90)">7</text><text transform="translate(1172,397.2) rotate(-90)">8</text>
<text x="1181" y="411" font-size="6">0</text><text x="1193" y="411" font-size="6">1</text><text x="1205" y="411" font-size="6">2</text><text x="1217" y="411" font-size="6">3</text></g>
</g>

<!-- caption -->
<g id="caption" class="cap">
<text x="12" y="472" textLength="1336" lengthAdjust="spacing">Figure 2: Left: An overview illustration of our proposed method G<tspan font-size="20.5">RAPH</tspan>S<tspan font-size="20.5">IM</tspan>. No graph-level representation is generated, and</text>
<text x="12" y="503.6" textLength="1336" lengthAdjust="spacing">it directly uses the node-node similarity scores in the three similarity matrices corresponding to node embeddings at different</text>
<text x="12" y="535.2" textLength="1336" lengthAdjust="spacing">scales. Right: Illustration of three similarity matrices from the L<tspan font-size="20.5">INUX</tspan> (Wang et al. 2012) dataset. For two isomorphic graphs (<tspan font-style="italic">A</tspan></text>
<text x="12" y="566.8" textLength="1336" lengthAdjust="spacing">and <tspan font-style="italic">A</tspan>), a strong symmetric diagonal block pattern is observed; for two less similar graphs (<tspan font-style="italic">A</tspan> and <tspan font-style="italic">B</tspan>), the dark diagonal pattern</text>
<text x="12" y="598.4" textLength="1336" lengthAdjust="spacing">is less evident; for two graphs that are not similar at all (<tspan font-style="italic">A</tspan> and <tspan font-style="italic">C</tspan>), the symmetric block pattern is almost gone. For graphs of</text>
<text x="12" y="630" textLength="1336" lengthAdjust="spacing">different sizes, we devise a consistent max padding scheme. Intuitively, the block patterns can be thought of as graph-graph</text>
<text x="12" y="661.6">similarity patterns at different scales, which are suitable for CNNs to capture.</text>
</g>
</svg>
